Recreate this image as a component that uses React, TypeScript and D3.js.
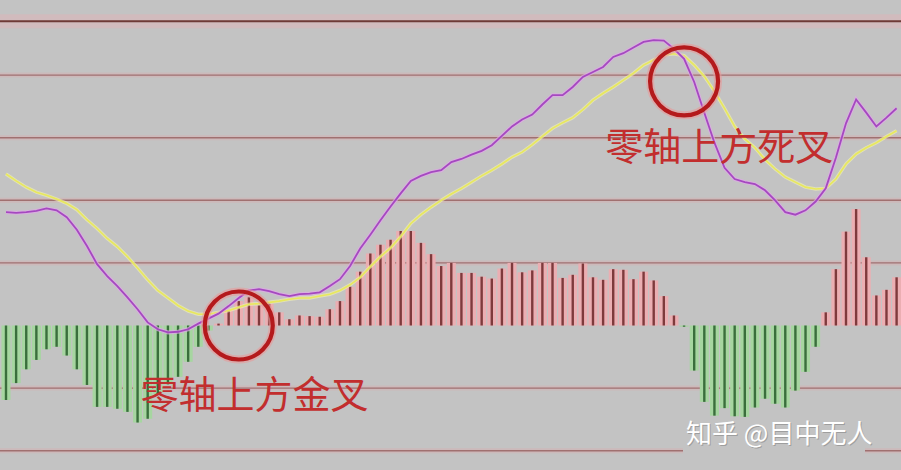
import * as d3 from 'd3'

// MACD: histogram, DIF (purple), DEA (yellow), one point per bar
const histValues = [
  -1.19, -0.92, -0.7, -0.55, -0.38, -0.34, -0.48, -0.7, -0.95, -1.3,
  -1.3, -1.33, -1.38, -1.55, -1.49, -1.1, -0.94, -0.82, -0.58, -0.34,
  -0.08, 0.03, 0.25, 0.39, 0.45, 0.32, 0.35, 0.21, 0.1, 0.16,
  0.15, 0.14, 0.26, 0.39, 0.62, 0.86, 1.15, 1.29, 1.37, 1.51,
  1.51, 1.32, 1.14, 0.95, 1.0, 0.84, 0.84, 0.78, 0.75, 0.91,
  1.0, 0.85, 0.88, 1.0, 1.0, 0.76, 0.81, 0.99, 0.77, 0.73,
  0.9, 0.89, 0.74, 0.86, 0.72, 0.47, 0.16, -0.02, -0.72, -1.22,
  -1.44, -1.32, -1.45, -1.46, -1.31, -1.17, -1.25, -1.31, -1.04, -0.74,
  -0.34, 0.21, 0.9, 1.5, 1.86, 1.09, 0.48, 0.57, 0.77,
]

const difValues = [
  1.81, 1.8, 1.81, 1.83, 1.87, 1.84, 1.73, 1.53, 1.27, 0.98,
  0.79, 0.63, 0.45, 0.26, 0.05, -0.06, -0.11, -0.1, -0.06, 0.03,
  0.11, 0.19, 0.31, 0.44, 0.56, 0.58, 0.55, 0.5, 0.47, 0.5,
  0.51, 0.53, 0.63, 0.74, 0.95, 1.23, 1.45, 1.68, 1.9, 2.11,
  2.31, 2.39, 2.45, 2.48, 2.61, 2.66, 2.73, 2.79, 2.88, 3.03,
  3.18, 3.29, 3.37, 3.53, 3.68, 3.68, 3.81, 3.97, 4.05, 4.13,
  4.29, 4.35, 4.44, 4.53, 4.56, 4.55, 4.42, 4.26, 3.89, 3.4,
  2.92, 2.52, 2.34, 2.29, 2.26, 2.16, 2.0, 1.81, 1.77, 1.84,
  1.98, 2.19, 2.68, 3.23, 3.61, 3.4, 3.18, 3.32, 3.47,
]

const deaValues = [
  2.42, 2.31, 2.21, 2.13, 2.08, 2.02, 1.95, 1.85, 1.69, 1.55,
  1.39, 1.26, 1.1, 0.92, 0.73, 0.56, 0.44, 0.32, 0.23, 0.18,
  0.18, 0.21, 0.24, 0.29, 0.34, 0.35, 0.37, 0.39, 0.42, 0.44,
  0.44, 0.47, 0.5, 0.56, 0.65, 0.77, 0.94, 1.1, 1.24, 1.42,
  1.63, 1.77, 1.89, 2.0, 2.1, 2.19, 2.29, 2.39, 2.48, 2.58,
  2.69, 2.77, 2.89, 3.02, 3.15, 3.24, 3.32, 3.45, 3.6, 3.71,
  3.81, 3.92, 4.03, 4.16, 4.24, 4.32, 4.34, 4.31, 4.16, 3.98,
  3.74, 3.47, 3.18, 2.98, 2.84, 2.65, 2.5, 2.37, 2.29, 2.21,
  2.18, 2.19, 2.34, 2.58, 2.74, 2.84, 2.92, 3.02, 3.11,
]

const gridTicks = [-2, -1, 1, 2, 3, 4]
const frameTop = 4.86

// annotations: bar index and value where the cross happens
const crosses = [
  { label: '零轴上方金叉', at: 23, value: 0.0, textAt: 13.3, textValue: -1.32 },
  { label: '零轴上方死叉', at: 67, value: 3.9, textAt: 59.2, textValue: 2.64 },
]

const W = 901
const H = 470

export default function App() {
  const x = d3.scaleLinear().domain([0, histValues.length - 1]).range([6, 896.6])
  const y = d3.scaleLinear().domain([-2, 4]).range([450.7, 75.1])

  const line = d3
    .line<number>()
    .x((_, i) => x(i))
    .y(d => y(d))

  const zero = y(0)

  return (
    <div style={{ position: 'absolute', left: 0, top: 0 }}>
      <svg width={W} height={H} style={{ display: 'block' }}>
        <rect width={W} height={H} fill="#c3c3c3" />

        {/* frame top */}
        <rect x={0} y={y(frameTop) - 7} width={W} height={14} fill="#dcb4b8" opacity={0.55} />
        <line x1={0} x2={W} y1={y(frameTop)} y2={y(frameTop)} stroke="#6e3a36" strokeWidth={2} />

        {/* grid */}
        {gridTicks.map(t => (
          <g key={t}>
            <line x1={0} x2={W} y1={y(t)} y2={y(t)} stroke="#d9aeb0" strokeWidth={5} opacity={0.45} />
            <line x1={0} x2={W} y1={y(t)} y2={y(t)} stroke="#a07070" strokeWidth={1.4} />
          </g>
        ))}

        {/* histogram halos */}
        {histValues.map((v, i) => (
          <rect
            key={'h' + i}
            x={x(i) - 4.5}
            y={Math.min(y(v), zero)}
            width={9}
            height={Math.abs(y(v) - zero)}
            fill={v >= 0 ? '#ebaeb2' : '#a6d6a0'}
          />
        ))}
        {histValues.map((v, i) => (
          <line
            key={'b' + i}
            x1={x(i)}
            x2={x(i)}
            y1={zero}
            y2={y(v)}
            stroke={v >= 0 ? '#7e3a3c' : '#3a6e3c'}
            strokeWidth={2.4}
          />
        ))}

        {/* DEA */}
        <path d={line(deaValues) || ''} fill="none" stroke="#f4f4b0" strokeWidth={3.5} opacity={0.6} />
        <path d={line(deaValues) || ''} fill="none" stroke="#e8e85c" strokeWidth={1.6} />
        {/* DIF */}
        <path d={line(difValues) || ''} fill="none" stroke="#e0a8e8" strokeWidth={4} opacity={0.7} />
        <path d={line(difValues) || ''} fill="none" stroke="#a548c0" strokeWidth={1.8} />

        {/* annotations */}
        {crosses.map(c => (
          <g key={c.label}>
            <circle cx={x(c.at)} cy={y(c.value)} r={34} fill="none" stroke="#e79a9a" strokeWidth={8} opacity={0.6} />
            <circle cx={x(c.at)} cy={y(c.value)} r={34} fill="none" stroke="#b41a1c" strokeWidth={4.2} />
            <text
              x={x(c.textAt)}
              y={y(c.textValue)}
              fill="#c22e2e"
              fontSize={38}
              fontFamily="'Noto Sans CJK SC', sans-serif"
            >
              {c.label}
            </text>
          </g>
        ))}

        {/* watermark */}
        <rect x={683} y={444} width={182} height={12} fill="#c3c3c3" />
        <text
          x={686}
          y={443}
          fill="#5a5a5a"
          opacity={0.35}
          fontSize={26}
          fontFamily="'Noto Sans CJK SC', sans-serif"
          transform="translate(1,1)"
        >
          知乎 @目中无人
        </text>
        <text x={686} y={443} fill="#ffffff" fontSize={26} fontFamily="'Noto Sans CJK SC', sans-serif">
          知乎 @目中无人
        </text>
      </svg>
    </div>
  )
}
